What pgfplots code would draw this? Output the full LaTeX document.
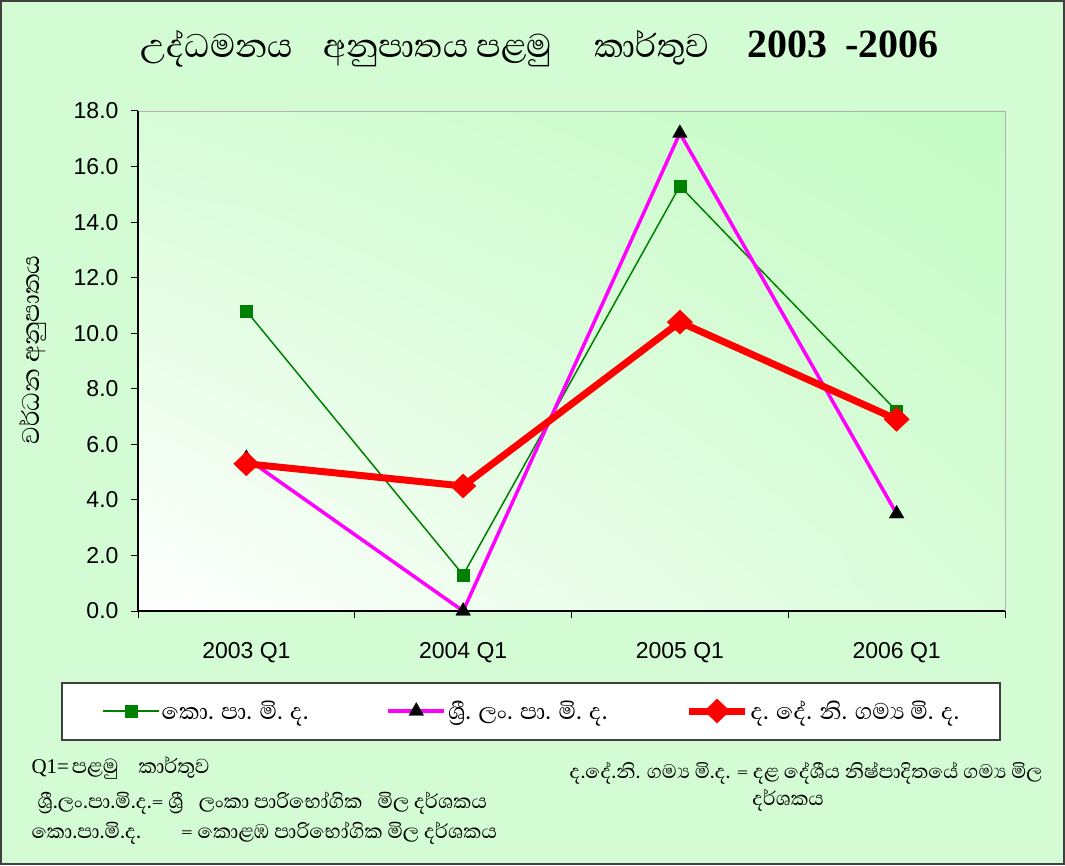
\documentclass[border=0pt]{standalone}
\usepackage{fontspec}
\setmainfont{Liberation Sans}
\newfontfamily\sinfont[Script=Sinhala]{Abhaya Libre}
\newfontfamily\serfont{Liberation Serif}
\usepackage{pgfplots}
\usetikzlibrary{shadings}
\pgfplotsset{compat=1.18}
\definecolor{bg}{RGB}{212,252,212}
\definecolor{plotg}{RGB}{196,252,196}
\definecolor{plotm}{RGB}{216,252,216}
\definecolor{xgreen}{RGB}{0,128,0}
\definecolor{xmag}{RGB}{255,0,255}
\begin{document}
\begin{tikzpicture}[x=1pt,y=1pt]
\fill[bg] (0,0) rectangle (1065,865);
\draw[line width=2pt, black!75] (1,1) rectangle (1064,864);
\fill[white] (62,125) rectangle (1000,182);
\draw[black!75, line width=1.2pt] (62,125) rectangle (1000,182);
\begin{axis}[
  at={(138pt,254pt)}, anchor=south west, scale only axis,
  width=867pt, height=500pt,
  xmin=-0.5, xmax=3.5, ymin=0, ymax=18, clip=false,
  axis background/.style={lower left=white, upper right=plotg, upper left=plotm, lower right=plotm, draw=gray!60},
  axis x line*=bottom, axis y line*=left,
  axis line style={-, black, line width=1.3pt},
  xtick={-0.5,0.5,1.5,2.5,3.5}, xticklabels={},
  extra x ticks={0,1,2,3}, extra x tick labels={2003 Q1,2004 Q1,2005 Q1,2006 Q1},
  extra x tick style={major tick length=0pt},
  ytick={0,2,...,18},
  tick align=outside, xtick pos=bottom, ytick pos=left,
  major tick length=7pt,
  every tick/.style={black, line width=1pt},
  tick label style={font=\fontsize{23}{27}\selectfont, black},
  yticklabel style={xshift=-9pt, /pgf/number format/.cd, fixed, fixed zerofill, precision=1, assume math mode=true},
  xticklabel style={yshift=-28pt},
  legend style={at={(axis description cs:-0.0415,-0.2)}, anchor=west, draw=none, fill=none, inner sep=0pt,
    font=\sinfont\fontsize{29}{32}\selectfont,
    /tikz/every even column/.append style={column sep=76pt}},
  legend columns=3, legend cell align=left,
  legend image code/.code={\draw[mark repeat=2,mark phase=2,#1] plot coordinates {(0pt,0pt) (28pt,0pt) (56pt,0pt)};},
]
\addplot[xgreen, line width=1.5pt, mark=square*, mark size=6pt, mark options={solid, line width=0.3pt, fill=xgreen}]
  coordinates {(0,10.8)(1,1.3)(2,15.3)(3,7.2)};
\addlegendentry{කො. පා. මි. ද.}
\addplot[xmag, line width=3.5pt, mark=triangle*, mark size=8.5pt, mark options={black, fill=black, line width=0.3pt}]
  coordinates {(0,5.5)(1,0)(2,17.2)(3,3.5)};
\addlegendentry{ශ්^^^^200dරී. ලං. පා. මි. ද.}
\addplot[red, line width=7pt, mark=diamond*, mark size=12pt, mark options={red, fill=red, line width=0.5pt, xscale=1.4}]
  coordinates {(0,5.3)(1,4.5)(2,10.4)(3,6.9)};
\addlegendentry{ද. දේ. නි. ගම්^^^^200dය මි. ද.}
\end{axis}
\node[anchor=west, inner sep=0pt] at (140,816) {\fontsize{42}{46}\selectfont\sinfont උද්ධමනය\hspace{30pt}අනුපාතය පළමු\hspace{42pt}කාර්තුව\hspace{38pt}{\serfont\bfseries\fontsize{40}{44}\selectfont 2003\hspace{18pt}-2006}};
\node[rotate=90] at (33,515) {\fontsize{31}{34}\selectfont\sinfont වර්ධන අනුපාතය};
\node[anchor=west] at (28,97) {{\serfont\fontsize{21}{24}\selectfont Q1=} \fontsize{26}{30}\selectfont\sinfont පළමු\hspace{20pt}කාර්තුව};
\node[anchor=west] at (34,62) {\fontsize{25.5}{30}\selectfont\sinfont ශ්^^^^200dරී.ලං.පා.මි.ද.= ශ්^^^^200dරී\hspace{15pt}ලංකා පාරිභෝගික\hspace{15pt}මිල දර්ශකය};
\node[anchor=west] at (28,32) {\fontsize{25.5}{30}\selectfont\sinfont කො.පා.මි.ද.\hspace{40pt}= කොළඹ පාරිභෝගික මිල දර්ශකය};
\node at (806,92) {\fontsize{25}{28}\selectfont\sinfont ද.දේ.නි. ගම්^^^^200dය මි.ද. = දළ දේශීය නිෂ්පාදිතයේ ගම්^^^^200dය මිල};
\node at (788,65) {\fontsize{25}{28}\selectfont\sinfont දර්ශකය};
\end{tikzpicture}
\end{document}
